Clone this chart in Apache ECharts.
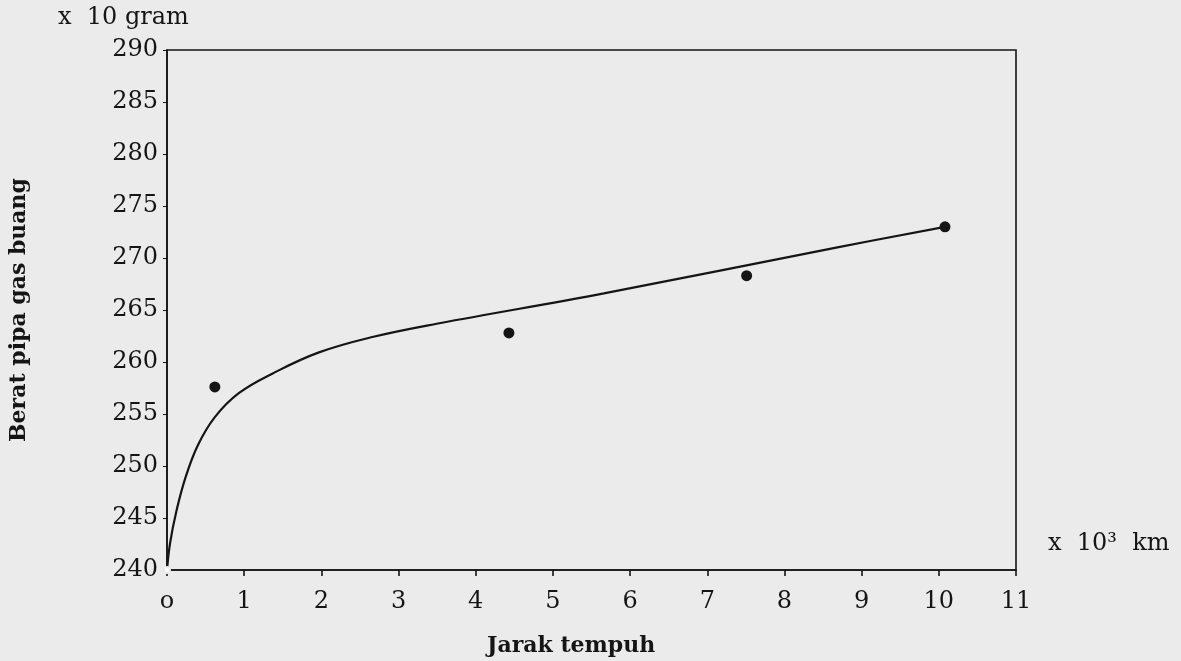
<!DOCTYPE html>
<html>
<head>
<meta charset="utf-8">
<script src="https://cdn.jsdelivr.net/npm/echarts@6/dist/echarts.min.js"></script>
<style>
html,body{margin:0;padding:0;background:#ebebeb;}
#chart{width:1181px;height:661px;}
</style>
</head>
<body>
<div id="chart"></div>
<script>
// Tick labels
const xTickLabels = ['o','1','2','3','4','5','6','7','8','9','10','11'];
const yTickValues = [240,245,250,255,260,265,270,275,280,285,290];

// Fitted curve
const curveX = [0, 0.04, 0.12, 0.24, 0.40, 0.62, 0.93, 1.37, 1.96, 2.66, 3.51, 5.66, 8.67, 10.08];
const curveY = [240, 242.6, 245.6, 248.9, 252.0, 254.7, 257.0, 258.9, 260.9, 262.4, 263.7, 266.6, 271.0, 273.0];

// Measured points
const dotX = [0.62, 4.43, 7.51, 10.08];
const dotY = [257.6, 262.8, 268.3, 273.0];

// Origin marker
const originX = [0];
const originY = [240];

const ink = '#151515';
const font = 'DejaVu Serif';

const chart = echarts.init(document.getElementById('chart'));
chart.setOption({
  backgroundColor: '#ebebeb',
  animation: false,
  grid: {left: 160, right: 165, top: 50, bottom: 91, show: true, borderColor: ink, borderWidth: 1.6, backgroundColor: 'transparent'},
  xAxis: {
    type: 'value', min: 0, max: 11, interval: 1,
    axisLine: {show: true, lineStyle: {color: ink, width: 1.6}},
    axisTick: {show: true, inside: false, length: 6, lineStyle: {color: ink, width: 1.6}},
    splitLine: {show: false},
    axisLabel: {color: ink, fontFamily: font, fontSize: 24, margin: 20,
      formatter: v => xTickLabels[Math.round(v)]}
  },
  yAxis: {
    type: 'value', min: 240, max: 290, interval: 5,
    name: 'Berat pipa gas buang', nameLocation: 'middle', nameRotate: 90, nameGap: 137,
    nameTextStyle: {color: ink, fontFamily: font, fontSize: 22, fontWeight: 'bold'},
    axisLine: {show: true, lineStyle: {color: ink, width: 1.6}},
    axisTick: {show: true, inside: false, length: 4, lineStyle: {color: ink, width: 1}},
    splitLine: {show: false},
    axisLabel: {color: ink, fontFamily: font, fontSize: 24, margin: 9,
      formatter: v => yTickValues.includes(v) ? String(v) : ''}
  },
  graphic: [
    {type: 'text', left: 58, top: 6, style: {text: 'x  10 gram', fill: ink, font: '24px "DejaVu Serif"'}},
    {type: 'text', left: 1048, top: 532, style: {text: 'x  10³  km', fill: ink, font: '24px "DejaVu Serif"'}},
    {type: 'text', left: 487, top: 635, style: {text: 'Jarak tempuh', fill: ink, font: 'bold 22px "DejaVu Serif"'}}
  ],
  series: [
    {
      type: 'line', data: curveX.map((x, i) => [x, curveY[i]]),
      smooth: 0.4, showSymbol: false,
      lineStyle: {color: ink, width: 2.2}, z: 3
    },
    {
      type: 'scatter', data: dotX.map((x, i) => [x, dotY[i]]),
      symbol: 'circle', symbolSize: 11, itemStyle: {color: ink, opacity: 1}, z: 4
    },
    {
      type: 'scatter', data: originX.map((x, i) => [x, originY[i]]),
      symbol: 'emptyCircle', symbolSize: 6, itemStyle: {color: '#ebebeb', borderColor: ink, borderWidth: 1.5, opacity: 1}, z: 5
    }
  ]
});
</script>
</body>
</html>
